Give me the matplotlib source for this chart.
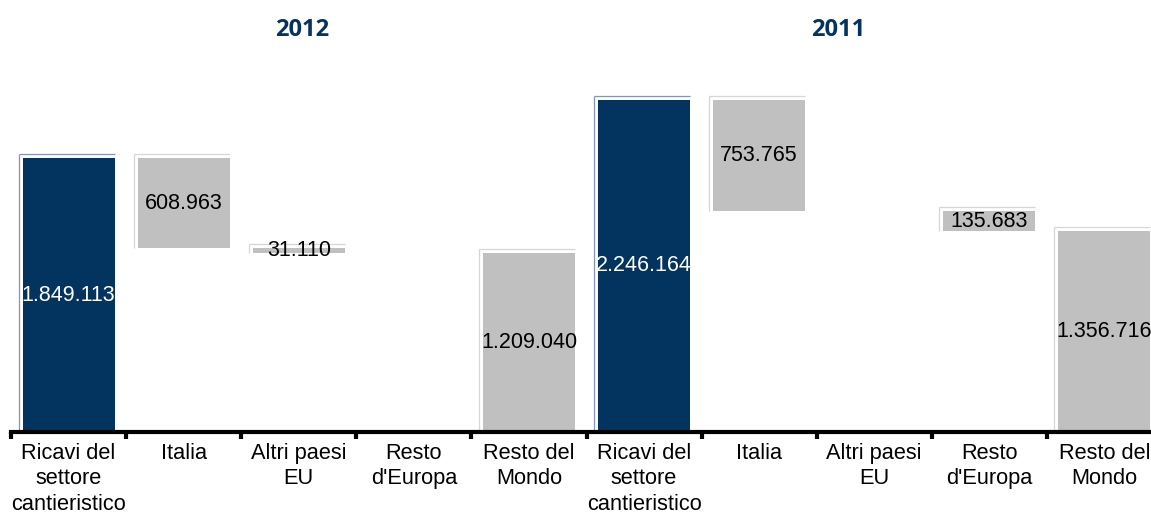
import numpy as np
import matplotlib
matplotlib.use('Agg')
import matplotlib.pyplot as plt

# Ricavi per area geografica - waterfall 2012 / 2011
years = ['2012', '2011']
categories = ['Ricavi del\nsettore\ncantieristico', 'Italia', 'Altri paesi\nEU',
              'Resto\nd\'Europa', 'Resto del\nMondo']
totals = [1849113, 2246164]
italia = [608963, 753765]
altri_eu = [31110, 0]
resto_europa = [0, 135683]
resto_mondo = [1209040, 1356716]

navy = '#03335F'
grey = '#C0C0C0'

plt.rcParams['font.family'] = ['Liberation Sans', 'DejaVu Sans']

W, H, dpi = 1151, 515, 100
fig = plt.figure(figsize=(W / dpi, H / dpi), dpi=dpi)
ax_left, ax_right = 11, 1162
ax_bottom, ax_top = 432, 62
ax = fig.add_axes([ax_left / W, (H - ax_bottom) / H,
                   (ax_right - ax_left) / W, (ax_bottom - ax_top) / H])
ymax = 2.5e6
ax.set_xlim(-0.5, 9.5)
ax.set_ylim(0, ymax)

# size of one pixel in data units, for the little offset "back" outline
px_x = 10 / (ax_right - ax_left)
px_y = ymax / (ax_bottom - ax_top)
off = 4
title_x = [302.5, 838]


def fmt(v):
    return '{:,}'.format(v).replace(',', '.')


def draw_bar(x, bottom, height, color, edge, label_color):
    w = 0.8
    left, right = x - w / 2, x + w / 2
    top = bottom + height
    # back outline (up and to the left)
    ax.plot([left - off * px_x, left - off * px_x], [bottom, top + off * px_y],
            color=edge, lw=0.9, zorder=1, solid_capstyle='butt')
    ax.plot([left - off * px_x, right], [top + off * px_y, top + off * px_y],
            color=edge, lw=0.9, zorder=1, solid_capstyle='butt')
    ax.bar(x, height, bottom=bottom, width=w, color=color, zorder=2, linewidth=0)
    ax.text(x, bottom + height / 2, fmt(height), ha='center', va='center',
            fontsize=15.5, color=label_color, zorder=3, clip_on=True)


for i, yr in enumerate(years):
    x0 = i * 5
    draw_bar(x0, 0, totals[i], navy, '#8196B6', 'white')
    running = totals[i]
    parts = [italia[i], altri_eu[i], resto_europa[i]]
    for j, v in enumerate(parts):
        running -= v
        if v > 0:
            draw_bar(x0 + 1 + j, running, v, grey, '#D6D6D6', 'black')
    draw_bar(x0 + 4, 0, resto_mondo[i], grey, '#D6D6D6', 'black')
    fig.text(title_x[i] / W, 1 - 30 / H, yr, ha='center', va='center', fontsize=17,
             fontweight='bold', color=navy, family='Open Sans')

for s in ['top', 'right', 'left']:
    ax.spines[s].set_visible(False)
ax.spines['bottom'].set_linewidth(3)
ax.set_yticks([])
ax.set_xticks(np.arange(-0.5, 10, 1))
ax.set_xticklabels([])
ax.tick_params(axis='x', which='major', length=5, width=3, direction='out')
ax.set_xticks(np.arange(10), minor=True)
ax.set_xticklabels(categories * 2, minor=True, fontsize=15.7, linespacing=1.27)
ax.tick_params(axis='x', which='minor', length=0, pad=8)

fig.savefig('out.png', dpi=dpi)
